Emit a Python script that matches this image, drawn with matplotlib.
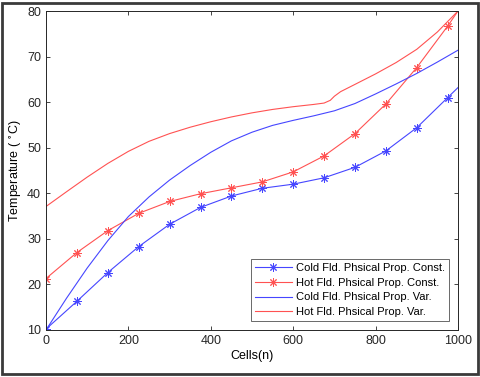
import matplotlib
matplotlib.use("Agg")
import matplotlib.pyplot as plt
from matplotlib.patches import Rectangle

plt.rcParams['font.family'] = ['Liberation Sans', 'DejaVu Sans']

# Constant-property series (markers every 75 cells)
x_const = [0, 75, 150, 225, 300, 375, 450, 525, 600, 675, 750, 825, 900, 975, 1000]
cold_const = [10.2, 16.3, 22.6, 28.3, 33.2, 36.9, 39.4, 41.1, 42.0, 43.4, 45.7, 49.3, 54.4, 61.0, 63.2]
hot_const = [21.3, 27.0, 31.8, 35.6, 38.2, 39.9, 41.2, 42.5, 44.7, 48.2, 53.1, 59.6, 67.6, 76.7, 80.0]

# Variable-property series
x_cold_var = [0, 50, 100, 150, 200, 250, 300, 350, 400, 450, 500, 550, 600, 650, 700,
              750, 800, 850, 900, 950, 1000]
cold_var = [10.0, 17.0, 23.6, 29.6, 34.9, 39.2, 42.9, 46.1, 49.0, 51.5, 53.4, 54.9, 56.0,
            57.0, 58.1, 59.7, 61.8, 64.0, 66.3, 68.8, 71.4]
x_hot_var = [0, 50, 100, 150, 200, 250, 300, 350, 400, 450, 500, 550, 600, 650, 675,
             690, 700, 715, 750, 800, 850, 900, 950, 1000]
hot_var = [37.1, 40.35, 43.55, 46.55, 49.2, 51.4, 53.1, 54.5, 55.7, 56.75, 57.65, 58.4, 59.0,
           59.5, 59.8, 60.4, 61.3, 62.3, 63.9, 66.2, 68.7, 71.6, 75.4, 80.0]

labels = ['Cold Fld. Phsical Prop. Const.', 'Hot Fld. Phsical Prop. Const.',
          'Cold Fld. Phsical Prop. Var.', 'Hot Fld. Phsical Prop. Var.']

blue = '#4646ff'
red = '#ff5252'
fs = 8

fig = plt.figure(figsize=(4.8, 3.77), dpi=100)
ax = fig.add_axes([46/480, 1-330/377, (458-46)/480, (330-11)/377])

mk = (8, 2, 0)
ax.plot(x_const, cold_const, color=blue, lw=0.8, marker=mk, ms=6, mew=0.7,
        markevery=list(range(14)), label=labels[0])
ax.plot(x_const, hot_const, color=red, lw=0.8, marker=mk, ms=6, mew=0.7,
        markevery=list(range(14)), label=labels[1])
ax.plot(x_cold_var, cold_var, color=blue, lw=0.8, label=labels[2])
ax.plot(x_hot_var, hot_var, color=red, lw=0.8, label=labels[3])

ax.set_xlim(0, 1000)
ax.set_ylim(10, 80)
ax.set_xticks(range(0, 1001, 200))
ax.set_yticks(range(10, 81, 10))
ax.tick_params(direction='in', top=True, right=True, labelsize=fs + 1,
               length=3, width=0.6, colors='#262626')
for s in ax.spines.values():
    s.set_linewidth(0.7)
    s.set_color('#262626')

ax.set_xlabel('Cells(n)', fontsize=fs + 1, labelpad=2)
ax.set_ylabel('Temperature ( $^{\\circ}$C)', fontsize=fs + 1, labelpad=2)

leg = ax.legend(loc='lower right', fontsize=fs, frameon=True, fancybox=False,
                edgecolor='#262626', handlelength=3.3, borderpad=0.35,
                labelspacing=0.42, handletextpad=0.4,
                bbox_to_anchor=(449/480, 1-321/377), bbox_transform=fig.transFigure,
                borderaxespad=0)
leg.get_frame().set_linewidth(0.6)

fig.patches.append(Rectangle((2/480, 3/377), 476/480, 371/377, transform=fig.transFigure,
                             fill=False, edgecolor='#3a3a3a', linewidth=2))

fig.savefig('out.png', dpi=100)
